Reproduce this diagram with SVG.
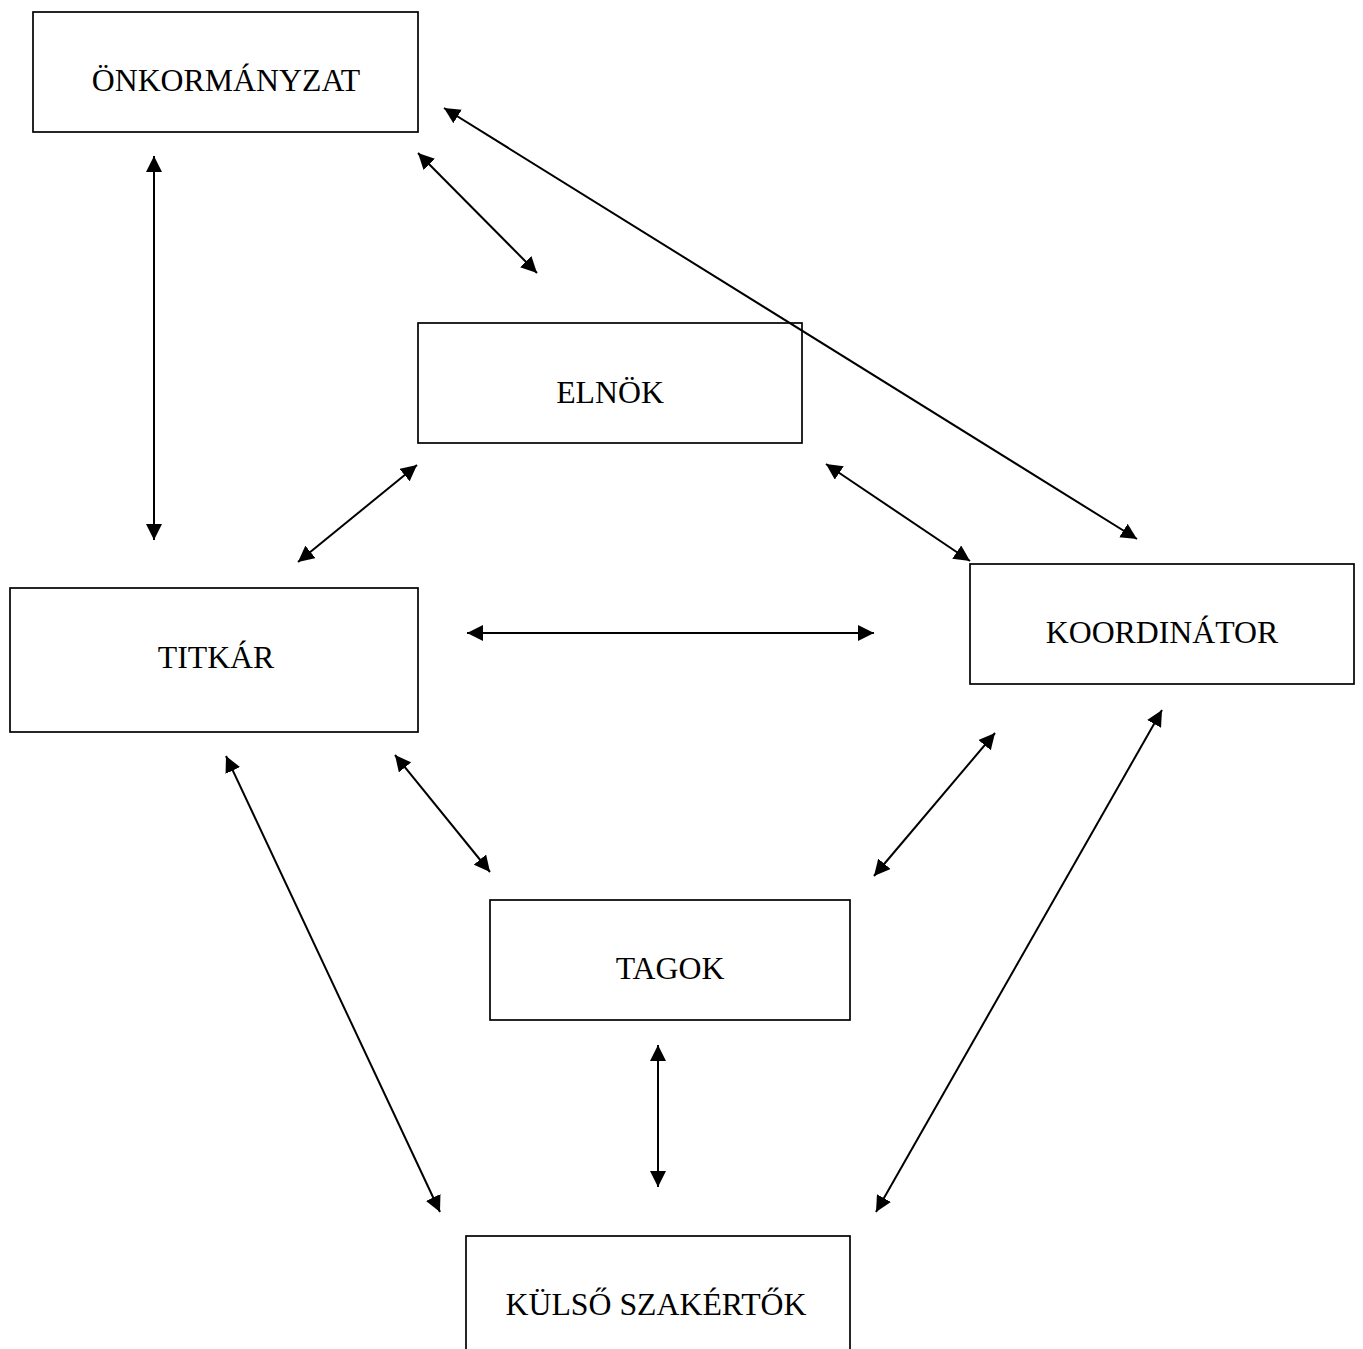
<svg xmlns="http://www.w3.org/2000/svg" width="1363" height="1349" viewBox="0 0 1363 1349">
<style>
.box{fill:#fff;stroke:#000;stroke-width:1.7}
.lbl{font-family:"Liberation Serif","Times New Roman",serif;font-size:31.8px;fill:#000;text-anchor:middle}
.cn{stroke:#000;stroke-width:2;fill:none;marker-start:url(#ah);marker-end:url(#ah)}
</style>
<defs>
<marker id="ah" markerUnits="userSpaceOnUse" markerWidth="17" markerHeight="16" refX="16" refY="8" orient="auto-start-reverse">
<path d="M0,0 L16,8 L0,16 z" fill="#000"/>
</marker>
</defs>
<rect width="1363" height="1349" fill="#fff"/>
<g id="n-onkormanyzat"><rect class="box" x="33" y="12" width="385" height="120"/><text class="lbl" x="226" y="91">ÖNKORMÁNYZAT</text></g>
<g id="n-elnok"><rect class="box" x="418" y="323" width="384" height="120"/><text class="lbl" x="610" y="403">ELNÖK</text></g>
<g id="n-titkar"><rect class="box" x="10" y="588" width="408" height="144"/><text class="lbl" x="216" y="668">TITKÁR</text></g>
<g id="n-koordinator"><rect class="box" x="970" y="564" width="384" height="120"/><text class="lbl" x="1162" y="643">KOORDINÁTOR</text></g>
<g id="n-tagok"><rect class="box" x="490" y="900" width="360" height="120"/><text class="lbl" x="670" y="979">TAGOK</text></g>
<g id="n-kulso"><rect class="box" x="466" y="1236" width="384" height="130"/><text class="lbl" x="656" y="1315">KÜLSŐ SZAKÉRTŐK</text></g>
<g id="connectors">
<line class="cn" x1="154" y1="156" x2="154" y2="540"/>
<line class="cn" x1="418" y1="153" x2="537" y2="273"/>
<line class="cn" x1="444" y1="108" x2="1137" y2="539"/>
<line class="cn" x1="417" y1="465" x2="298" y2="562"/>
<line class="cn" x1="826" y1="464" x2="970" y2="561"/>
<line class="cn" x1="467" y1="633" x2="874" y2="633"/>
<line class="cn" x1="395" y1="755" x2="490" y2="872"/>
<line class="cn" x1="995" y1="733" x2="874" y2="876"/>
<line class="cn" x1="226" y1="756" x2="440" y2="1212"/>
<line class="cn" x1="658" y1="1045" x2="658" y2="1187"/>
<line class="cn" x1="1162" y1="710" x2="876" y2="1212"/>
</g>
</svg>
